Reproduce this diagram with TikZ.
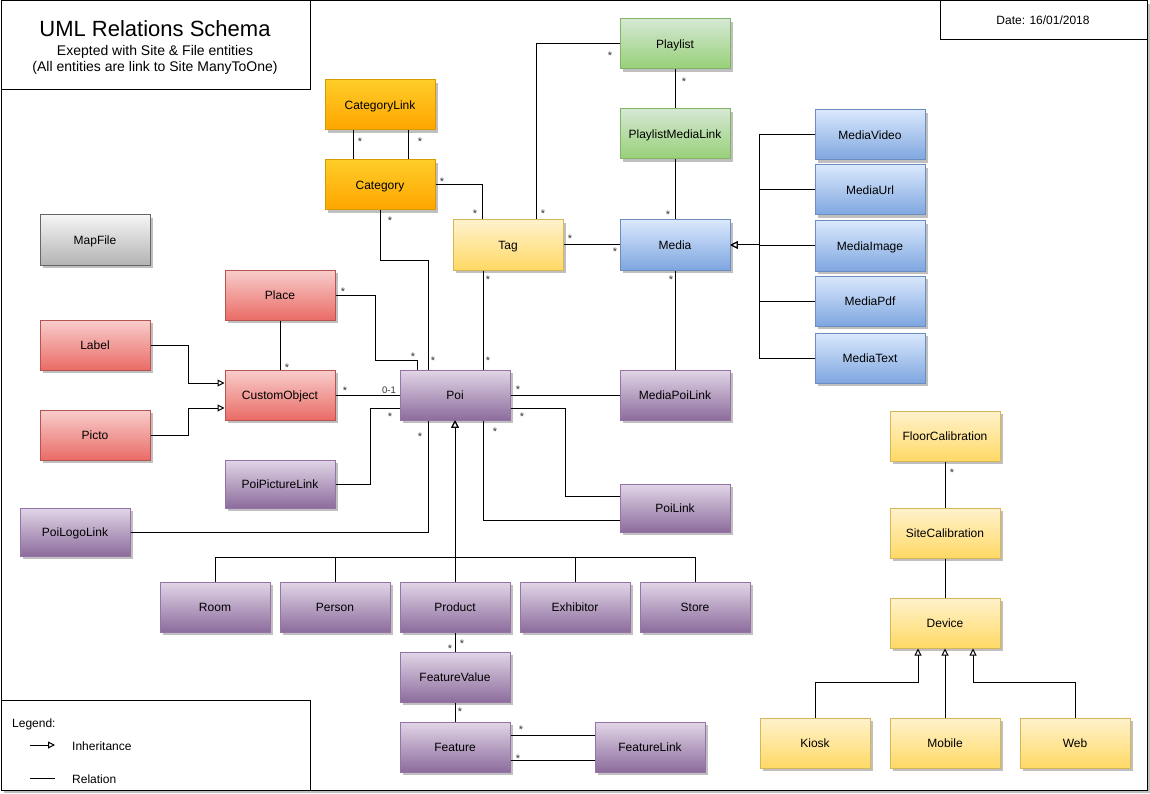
\documentclass[tikz,border=0pt]{standalone}
\usepackage{fontspec}
\setmainfont{Liberation Sans}
\usetikzlibrary{arrows.meta,shadows}
\definecolor{orT}{HTML}{FFCD28}\definecolor{orB}{HTML}{FFA500}\definecolor{orS}{HTML}{D79B00}
\definecolor{grT}{HTML}{D5E8D4}\definecolor{grB}{HTML}{97D077}\definecolor{grS}{HTML}{82B366}
\definecolor{blT}{HTML}{DAE8FC}\definecolor{blB}{HTML}{7EA6E0}\definecolor{blS}{HTML}{6C8EBF}
\definecolor{rdT}{HTML}{F8CECC}\definecolor{rdB}{HTML}{EA6B66}\definecolor{rdS}{HTML}{B85450}
\definecolor{puT}{HTML}{E1D5E7}\definecolor{puB}{HTML}{8C6C9C}\definecolor{puS}{HTML}{9673A6}
\definecolor{yeT}{HTML}{FFF2CC}\definecolor{yeB}{HTML}{FFD966}\definecolor{yeS}{HTML}{D6B656}
\definecolor{gyT}{HTML}{F5F5F5}\definecolor{gyB}{HTML}{B3B3B3}\definecolor{gyS}{HTML}{666666}
\tikzset{
  ent/.style={draw, line width=1pt, minimum width=110pt, minimum height=50pt, inner sep=0pt,
    font=\fontsize{12}{14}\selectfont, text height=8.6pt, text depth=0pt,
    drop shadow={shadow xshift=3pt, shadow yshift=-3pt, fill=black!25, opacity=1}},
  orange/.style={ent, draw=orS, top color=orT, bottom color=orB},
  green/.style={ent, draw=grS, top color=grT, bottom color=grB},
  blue/.style={ent, draw=blS, top color=blT, bottom color=blB},
  red/.style={ent, draw=rdS, top color=rdT, bottom color=rdB},
  purple/.style={ent, draw=puS, top color=puT, bottom color=puB},
  yellow/.style={ent, draw=yeS, top color=yeT, bottom color=yeB},
  grey/.style={ent, draw=gyS, top color=gyT, bottom color=gyB},
  rel/.style={draw=black, line width=1pt},
  inh/.style={rel, -{Triangle[fill=white, length=7pt, width=7pt]}},
  lbl/.style={font=\fontsize{11}{11}\selectfont, inner sep=0pt, yshift=-2.3pt, text=black!80},
  txt/.style={inner sep=0pt, anchor=base},
}
\begin{document}
\begin{tikzpicture}[x=1pt, y=-1pt]
\useasboundingbox (0,0) rectangle (1150,794);
% outer frame
\fill[black!25] (4,4) rectangle (1150,793);
\fill[white] (1,1) rectangle (1147,790);
\draw[line width=1pt] (1,1) rectangle (1147,790);
% title box
\draw[line width=1pt] (1,1) rectangle (310,90);
\node[txt, font=\fontsize{22}{26}\selectfont] (t1) at (155,37) {UML Relations Schema};
\node[txt, font=\fontsize{14}{16}\selectfont] (t2) at (155,56) {Exepted with Site \& File entities};
\node[txt, font=\fontsize{14}{16}\selectfont] (t3) at (155,72) {(All entities are link to Site ManyToOne)};
% date box
\draw[line width=1pt] (940,1) rectangle (1147,40);
\node[txt, font=\fontsize{12}{14}\selectfont] (date) at (1043,24.5) {Date: 16/01/2018};
% legend
\draw[line width=1pt] (1,700) rectangle (310,790);
\node[txt, anchor=base west, font=\fontsize{12}{14}\selectfont] (lg) at (12,727) {Legend:};
\node[txt, anchor=base west, font=\fontsize{12}{14}\selectfont] (lgi) at (72,750) {Inheritance};
\node[txt, anchor=base west, font=\fontsize{12}{14}\selectfont] (lgr) at (72,783) {Relation};
\coordinate (la1) at (30,745); \coordinate (la2) at (55,745);
\coordinate (lb1) at (30,778); \coordinate (lb2) at (55,778);
\draw[inh] (la1) -- (la2);
\draw[rel] (lb1) -- (lb2);

% entities
\node[orange] (catlink) at (380,105) {CategoryLink};
\node[orange] (cat) at (380,185) {Category};
\node[green] (playlist) at (675,44) {Playlist};
\node[green] (pml) at (675,134) {PlaylistMediaLink};
\node[grey] (mapfile) at (95,240) {MapFile};
\node[yellow] (tag) at (508,245) {Tag};
\node[blue] (media) at (675,245) {Media};
\node[blue] (mvideo) at (870,135) {MediaVideo};
\node[blue] (murl) at (870,190) {MediaUrl};
\node[blue] (mimage) at (870,246) {MediaImage};
\node[blue] (mpdf) at (870,301) {MediaPdf};
\node[blue] (mtext) at (870,358) {MediaText};
\node[red] (place) at (280,295) {Place};
\node[red] (label) at (95,345) {Label};
\node[red] (co) at (280,395) {CustomObject};
\node[red] (picto) at (95,435) {Picto};
\node[purple] (poi) at (455,395) {Poi};
\node[purple] (mpl) at (675,395) {MediaPoiLink};
\node[purple, minimum height=48pt] (ppl) at (280,484) {PoiPictureLink};
\node[purple, minimum height=48pt] (pll) at (75,532) {PoiLogoLink};
\node[purple, minimum height=48pt] (poilink) at (675,508) {PoiLink};
\node[yellow] (floor) at (945,436) {FloorCalibration};
\node[yellow] (sitecal) at (945,533) {SiteCalibration};
\node[yellow] (device) at (945,623) {Device};
\node[purple] (room) at (215,607) {Room};
\node[purple] (person) at (335,607) {Person};
\node[purple] (product) at (455,607) {Product};
\node[purple] (exhibitor) at (575,607) {Exhibitor};
\node[purple] (store) at (695,607) {Store};
\node[purple] (fv) at (455,677) {FeatureValue};
\node[purple] (feature) at (455,747) {Feature};
\node[purple] (flink) at (650,747) {FeatureLink};
\node[yellow] (kiosk) at (815,743) {Kiosk};
\node[yellow] (mobile) at (945,743) {Mobile};
\node[yellow] (web) at (1075,743) {Web};

% relations
\draw[rel] ([xshift=-27pt]catlink.south) -- ([xshift=-27pt]cat.north);
\draw[rel] ([xshift=28pt]catlink.south) -- ([xshift=28pt]cat.north);
\draw[rel] (cat.east) -| ([xshift=-26pt]tag.north);
\draw[rel] (cat.south) -- ++(0,50) -| ([xshift=-27pt]poi.north);
\draw[rel] (playlist.west) -| ([xshift=28pt]tag.north);
\draw[rel] (playlist.south) -- (pml.north);
\draw[rel] (pml.south) -- (media.north);
\draw[rel] (tag.east) -- (media.west);
\draw[rel] (media.south) -- (mpl.north);
\foreach \m in {mvideo,murl,mimage,mpdf,mtext}{
  \draw[inh] (\m.west) -- ++(-55,0) |- (media.east);
}
\draw[rel] ([xshift=-25pt]tag.south) -- ([xshift=28pt]poi.north);
\draw[rel] (place.east) -- ++(40,0) -- ++(0,65) -| ([xshift=-38pt]poi.north);
\draw[rel] (place.south) -- (co.north);
\draw[inh] (label.east) -- ++(38,0) |- ([yshift=12pt]co.west);
\draw[inh] (picto.east) -- ++(38,0) |- ([yshift=-13pt]co.west);
\draw[rel] (co.east) -- (poi.west);
\draw[rel] (ppl.east) -- ++(35,0) |- ([yshift=-13pt]poi.west);
\draw[rel] (pll.east) -| ([xshift=-27pt]poi.south);
\draw[rel] (poi.east) -- (mpl.west);
\draw[rel] ([yshift=-13pt]poi.east) -- ++(55,0) |- ([yshift=12pt]poilink.west);
\draw[rel] ([xshift=28pt]poi.south) |- ([yshift=-12pt]poilink.west);
\foreach \c in {room,person,exhibitor,store}{
  \draw[inh] (\c.north) -- ++(0,-24) -| (poi.south);
}
\draw[inh] (product.north) -- (poi.south);
\draw[rel] (product.south) -- (fv.north);
\draw[rel] (fv.south) -- (feature.north);
\draw[rel] ([yshift=12pt]feature.east) -- ([yshift=12pt]flink.west);
\draw[rel] ([yshift=-13pt]feature.east) -- ([yshift=-13pt]flink.west);
\draw[rel] (floor.south) -- (sitecal.north);
\draw[rel] (sitecal.south) -- (device.north);
\draw[inh] (kiosk.north) -- ++(0,-35) -| ([xshift=-27pt]device.south);
\draw[inh] (mobile.north) -- (device.south);
\draw[inh] (web.north) -- ++(0,-35) -| ([xshift=28pt]device.south);

% multiplicity labels
\node[lbl] (s1) at (360,139) {*};
\node[lbl] (s2) at (420,139) {*};
\node[lbl] (s3) at (442,179) {*};
\node[lbl] (s4) at (475,211) {*};
\node[lbl] (s5) at (543,211) {*};
\node[lbl] (s6) at (390,218) {*};
\node[lbl] (s7) at (570,236) {*};
\node[lbl] (s8) at (488,277) {*};
\node[lbl] (s9) at (610,53) {*};
\node[lbl] (s10) at (684,79) {*};
\node[lbl] (s11) at (668,212) {*};
\node[lbl] (s12) at (615,249) {*};
\node[lbl] (s13) at (671,277) {*};
\node[lbl] (s14) at (343,289) {*};
\node[lbl] (s15) at (413,354) {*};
\node[lbl] (s16) at (433,358) {*};
\node[lbl] (s17) at (488,358) {*};
\node[lbl] (s18) at (287,365) {*};
\node[lbl] (s19) at (345,388) {*};
\node[font=\fontsize{9.5}{10}\selectfont, inner sep=0pt, text=black!80] (s20) at (389,390) {0-1};
\node[lbl] (s21) at (518,387) {*};
\node[lbl] (s22) at (390,414) {*};
\node[lbl] (s23) at (522,414) {*};
\node[lbl] (s24) at (420,434) {*};
\node[lbl] (s25) at (495,429) {*};
\node[lbl] (s26) at (450,646) {*};
\node[lbl] (s27) at (462,641) {*};
\node[lbl] (s28) at (460,709) {*};
\node[lbl] (s29) at (521,727) {*};
\node[lbl] (s30) at (518,756) {*};
\node[lbl] (s31) at (952,470) {*};
\end{tikzpicture}
\end{document}
